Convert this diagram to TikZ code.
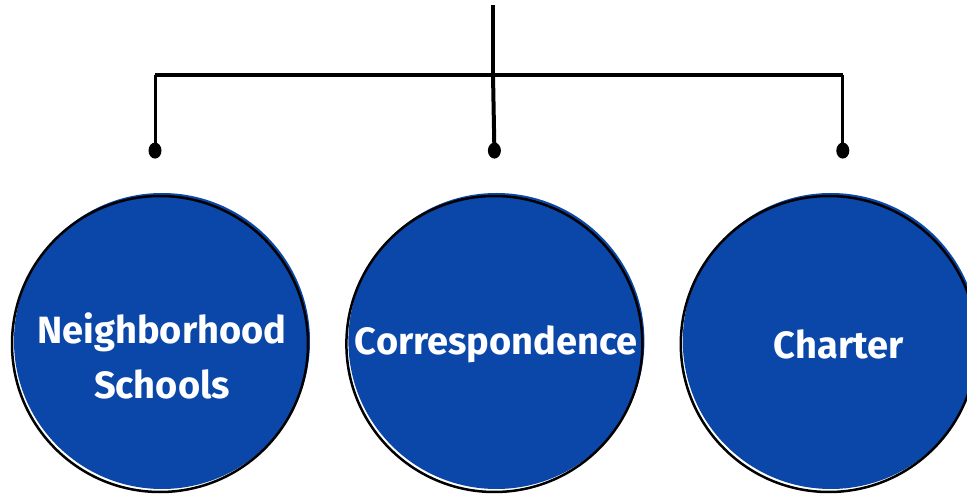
\documentclass[tikz,border=0pt]{standalone}
\usepackage{fontspec}
\setmainfont{Fira Sans}
\usetikzlibrary{positioning, shapes.geometric}

\definecolor{schoolblue}{HTML}{0A47A8}

\begin{document}
\begin{tikzpicture}[x=1pt, y=1pt, node distance=38pt,
    school/.style={circle, fill=schoolblue, minimum size=296pt, inner sep=0pt,
        postaction={draw=black, line width=2.5pt,
            transform canvas={xshift=-2pt, yshift=-3pt}}},
    caption/.style={text=white, align=center, font=\fontsize{38}{55}\selectfont\bfseries},
    knob/.style={ellipse, fill=black, minimum width=13pt, minimum height=16pt, inner sep=0pt},
    bar/.style={line width=4pt},
    branch/.style={line width=3pt}]
    \useasboundingbox (0,0) rectangle (967,493);
    \clip (0,0) rectangle (967,493);

    % the three kinds of school
    \node[school] (nbh) at (162,152) {};
    \node[school, right=of nbh] (corr) {};
    \node[school, right=of corr] (chr) {};
    \node[caption, below=15pt of nbh.center, anchor=center] (nbhtext) {Neighborhood\\Schools};
    \node[caption, below=3pt of corr.center, anchor=center] (corrtext) {Correspondence};
    \node[caption, below=3pt of chr.center, anchor=center, xshift=8pt] (chrtext) {Charter};

    % knobs above the circles
    \node[knob, above=34pt of nbh, xshift=-7pt] (nbhknob) {};
    \node[knob, above=34pt of corr, xshift=-2pt] (corrknob) {};
    \node[knob, above=34pt of chr, xshift=12pt] (chrknob) {};

    % the tree
    \coordinate (top) at (493,488);
    \coordinate (fork) at (493,418);
    \draw[bar] (top) -- (fork);
    \draw[bar] (nbhknob.center |- fork) -- (chrknob.center |- fork);
    \draw[branch] (nbhknob.center |- fork) -- (nbhknob.center);
    \draw[bar] (fork) -- (corrknob.center);
    \draw[branch] (chrknob.center |- fork) -- (chrknob.center);
\end{tikzpicture}
\end{document}
